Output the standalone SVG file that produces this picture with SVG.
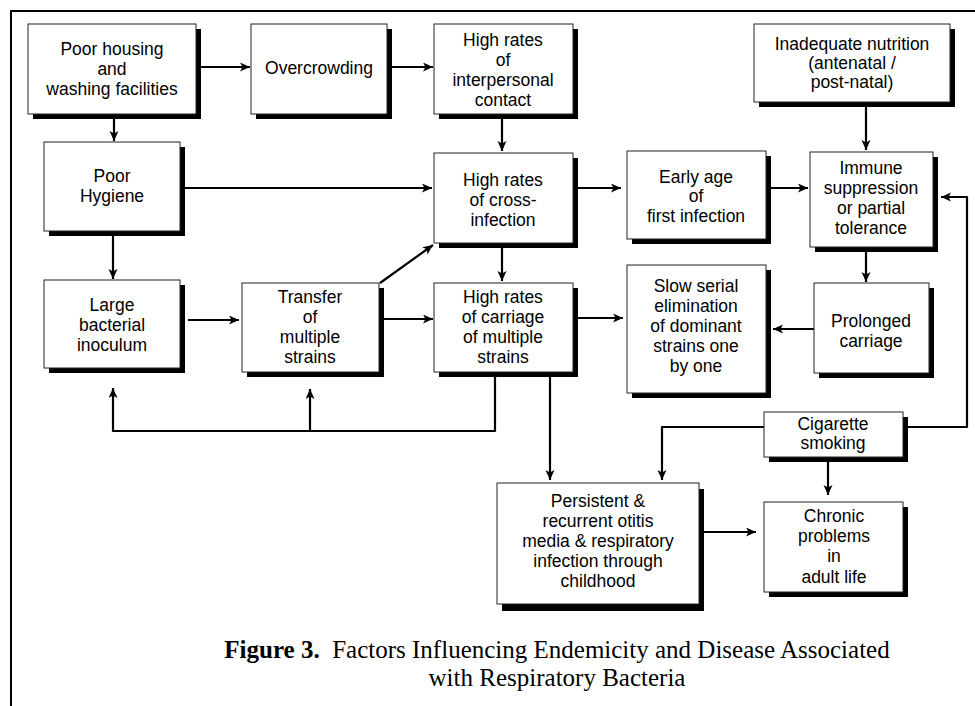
<svg xmlns="http://www.w3.org/2000/svg" width="975" height="706" viewBox="0 0 975 706">
<style>
.sh{fill:#000}
.bx{fill:#fff;stroke:#222;stroke-width:1}
.t{font-family:"Liberation Sans",Arial,sans-serif;font-size:17.5px;text-anchor:middle;fill:#000}
.c{fill:none;stroke:#000;stroke-width:2.2;stroke-linejoin:round}
.a{marker-end:url(#ah)}
.cap{font-family:"Liberation Serif","Times New Roman",serif;font-size:25px;text-anchor:middle;fill:#000}
</style>
<defs>
<marker id="ah" markerUnits="userSpaceOnUse" markerWidth="11" markerHeight="10" refX="10" refY="4.5" orient="auto">
<path d="M0,0 L10,4.5 L0,9 L2.5,4.5 Z" fill="#000"/>
</marker>
</defs>
<rect width="975" height="706" fill="#fff"/>
<path d="M11,706 V11 H975" fill="none" stroke="#000" stroke-width="2"/>
<g id="connectors">
<path class="c a" d="M200,67 H250"/>
<path class="c a" d="M392,67 H433"/>
<path class="c a" d="M114,119 V141"/>
<path class="c a" d="M502,119 V151"/>
<path class="c a" d="M185,188 H432"/>
<path class="c a" d="M113,236 V279"/>
<path class="c a" d="M578,188 H621"/>
<path class="c a" d="M771,188 H808"/>
<path class="c a" d="M866,107 V150"/>
<path class="c a" d="M866,252 V282"/>
<path class="c a" d="M502,248 V281"/>
<path class="c a" d="M380,283 L433,245"/>
<path class="c a" d="M188,320 H239"/>
<path class="c a" d="M384,319 H433"/>
<path class="c a" d="M578,318 H623"/>
<path class="c a" d="M814,329 H773"/>
<path class="c a" d="M495,377 V431 H113 V388"/>
<path class="c a" d="M310,431 V389"/>
<path class="c a" d="M550,377 V480"/>
<path class="c a" d="M764,427 H662 V480"/>
<path class="c a" d="M828,462 V495"/>
<path class="c a" d="M908,427 H967 V197 H941"/>
<path class="c a" d="M704,532 H756"/>
</g>
<g id="poor-housing">
<rect class="sh" x="33" y="29" width="168" height="90"/>
<rect class="bx" x="28" y="24" width="168" height="90"/>
<text class="t" x="112" y="55">Poor housing</text>
<text class="t" x="112" y="75">and</text>
<text class="t" x="112" y="95">washing facilities</text>
</g>
<g id="overcrowding">
<rect class="sh" x="256" y="29" width="136" height="90"/>
<rect class="bx" x="251" y="24" width="136" height="90"/>
<text class="t" x="319" y="74">Overcrowding</text>
</g>
<g id="interpersonal">
<rect class="sh" x="439" y="29" width="139" height="90"/>
<rect class="bx" x="434" y="24" width="139" height="90"/>
<text class="t" x="503" y="46">High rates</text>
<text class="t" x="503" y="66">of</text>
<text class="t" x="503" y="86">interpersonal</text>
<text class="t" x="503" y="106">contact</text>
</g>
<g id="nutrition">
<rect class="sh" x="759" y="29" width="196" height="78"/>
<rect class="bx" x="754" y="24" width="196" height="78"/>
<text class="t" x="852" y="50">Inadequate nutrition</text>
<text class="t" x="852" y="69">(antenatal /</text>
<text class="t" x="852" y="88">post-natal)</text>
</g>
<g id="poor-hygiene">
<rect class="sh" x="49" y="147" width="136" height="89"/>
<rect class="bx" x="44" y="142" width="136" height="89"/>
<text class="t" x="112" y="182">Poor</text>
<text class="t" x="112" y="202">Hygiene</text>
</g>
<g id="cross-infection">
<rect class="sh" x="439" y="158" width="139" height="90"/>
<rect class="bx" x="434" y="153" width="139" height="90"/>
<text class="t" x="503" y="186">High rates</text>
<text class="t" x="503" y="206">of cross-</text>
<text class="t" x="503" y="226">infection</text>
</g>
<g id="early-age">
<rect class="sh" x="632" y="156" width="139" height="88"/>
<rect class="bx" x="627" y="151" width="139" height="88"/>
<text class="t" x="696" y="183">Early age</text>
<text class="t" x="696" y="202">of</text>
<text class="t" x="696" y="222">first infection</text>
</g>
<g id="immune">
<rect class="sh" x="815" y="157" width="123" height="95"/>
<rect class="bx" x="810" y="152" width="123" height="95"/>
<text class="t" x="871" y="174">Immune</text>
<text class="t" x="871" y="194">suppression</text>
<text class="t" x="871" y="214">or partial</text>
<text class="t" x="871" y="234">tolerance</text>
</g>
<g id="large-inoculum">
<rect class="sh" x="49" y="285" width="136" height="88"/>
<rect class="bx" x="44" y="280" width="136" height="88"/>
<text class="t" x="112" y="311">Large</text>
<text class="t" x="112" y="331">bacterial</text>
<text class="t" x="112" y="351">inoculum</text>
</g>
<g id="transfer">
<rect class="sh" x="247" y="288" width="137" height="89"/>
<rect class="bx" x="242" y="283" width="137" height="89"/>
<text class="t" x="310" y="303">Transfer</text>
<text class="t" x="310" y="323">of</text>
<text class="t" x="310" y="343">multiple</text>
<text class="t" x="310" y="363">strains</text>
</g>
<g id="carriage">
<rect class="sh" x="439" y="288" width="139" height="89"/>
<rect class="bx" x="434" y="283" width="139" height="89"/>
<text class="t" x="503" y="303">High rates</text>
<text class="t" x="503" y="323">of carriage</text>
<text class="t" x="503" y="343">of multiple</text>
<text class="t" x="503" y="363">strains</text>
</g>
<g id="slow-elimination">
<rect class="sh" x="632" y="270" width="139" height="128"/>
<rect class="bx" x="627" y="265" width="139" height="128"/>
<text class="t" x="696" y="292">Slow serial</text>
<text class="t" x="696" y="312">elimination</text>
<text class="t" x="696" y="332">of dominant</text>
<text class="t" x="696" y="352">strains one</text>
<text class="t" x="696" y="372">by one</text>
</g>
<g id="prolonged">
<rect class="sh" x="819" y="288" width="115" height="90"/>
<rect class="bx" x="814" y="283" width="115" height="90"/>
<text class="t" x="871" y="327">Prolonged</text>
<text class="t" x="871" y="347">carriage</text>
</g>
<g id="cigarette">
<rect class="sh" x="769" y="417" width="139" height="45"/>
<rect class="bx" x="764" y="412" width="139" height="45"/>
<text class="t" x="833" y="430">Cigarette</text>
<text class="t" x="833" y="449">smoking</text>
</g>
<g id="persistent">
<rect class="sh" x="502" y="489" width="202" height="122"/>
<rect class="bx" x="497" y="483" width="202" height="121"/>
<text class="t" x="598" y="507">Persistent &amp;</text>
<text class="t" x="598" y="527">recurrent otitis</text>
<text class="t" x="598" y="547">media &amp; respiratory</text>
<text class="t" x="598" y="567">infection through</text>
<text class="t" x="598" y="587">childhood</text>
</g>
<g id="chronic">
<rect class="sh" x="769" y="507" width="139" height="90"/>
<rect class="bx" x="764" y="502" width="139" height="90"/>
<text class="t" x="834" y="522">Chronic</text>
<text class="t" x="834" y="542">problems</text>
<text class="t" x="834" y="562">in</text>
<text class="t" x="834" y="583">adult life</text>
</g>
<g id="caption">
<text class="cap" x="557" y="658"><tspan font-weight="bold">Figure 3.</tspan>&#160; Factors Influencing Endemicity and Disease Associated</text>
<text class="cap" x="557" y="686">with Respiratory Bacteria</text>
</g>
</svg>
